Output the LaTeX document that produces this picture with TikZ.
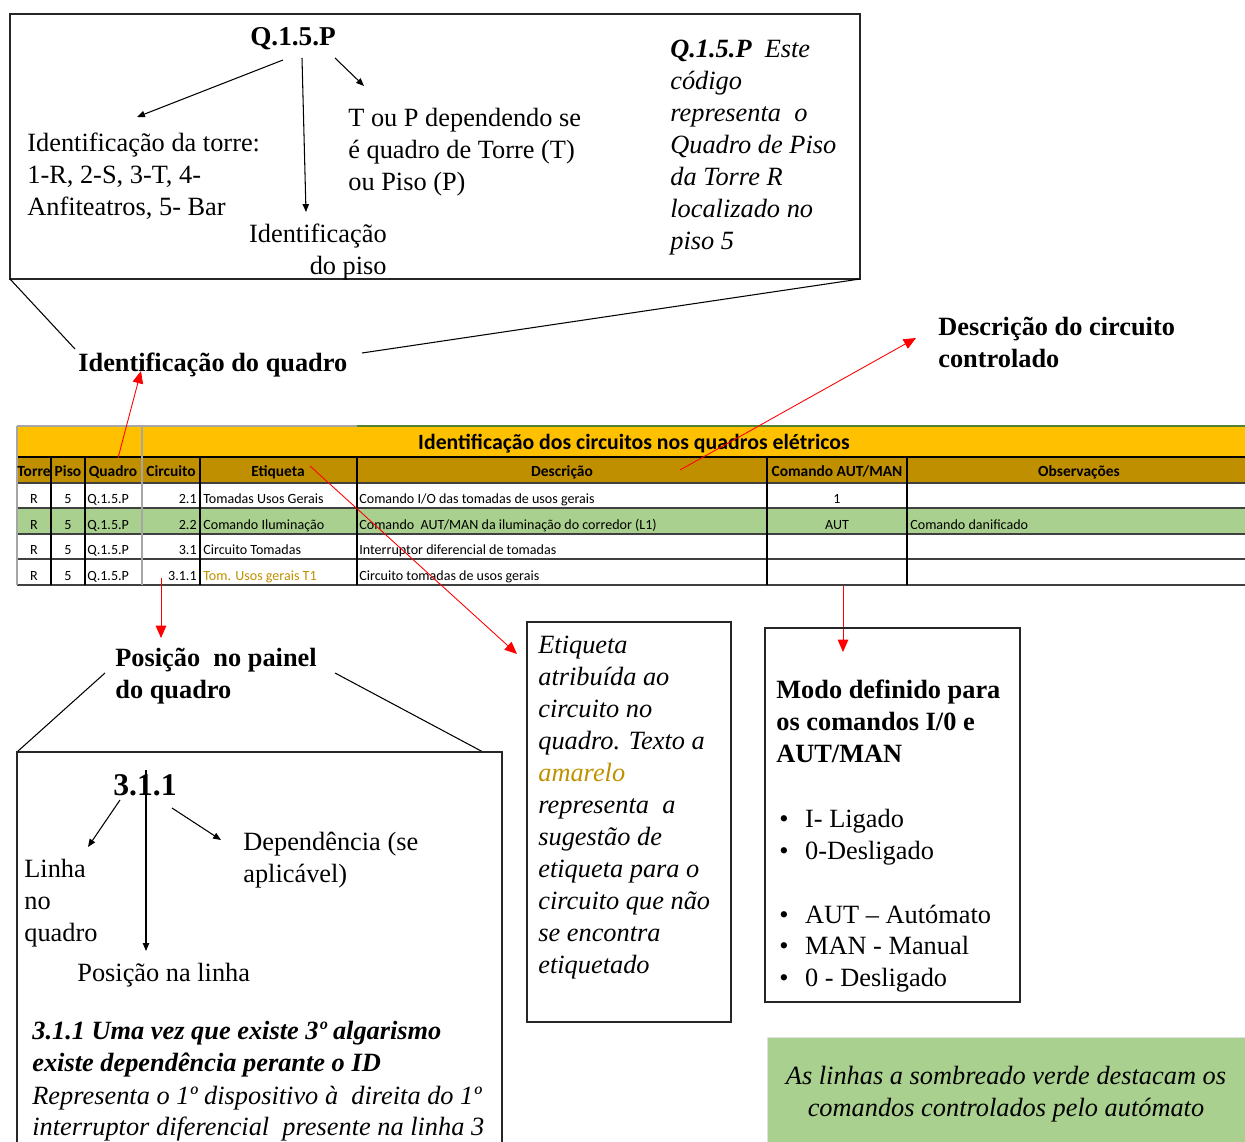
\documentclass[tikz,border=0pt]{standalone}
\usepackage{fontspec}
\setmainfont{Liberation Serif}
\newfontfamily\calfont{Carlito}
\usetikzlibrary{arrows.meta}

\definecolor{tblyellow}{HTML}{FFC000}
\definecolor{tblhead}{HTML}{BF8F00}
\definecolor{tblgreen}{HTML}{A9D08E}
\definecolor{goldtxt}{HTML}{BF9000}
\definecolor{gridgrey}{HTML}{A6A6A6}
\definecolor{rowline}{HTML}{404040}
\definecolor{topgreen}{HTML}{548235}

\newcommand\bitem[1]{\makebox[14.7pt][l]{•}#1}

\tikzset{
  txt/.style={font=\fontsize{15}{18.1}\selectfont, inner sep=0pt, align=left},
  txtb/.style={font=\bfseries\fontsize{15}{18.1}\selectfont, inner sep=0pt, align=left},
  txti/.style={font=\itshape\fontsize{15}{18.2}\selectfont, inner sep=0pt, align=left},
  frame/.style={draw=black!85, line width=0.6pt},
  thin/.style={draw=black, line width=0.6pt},
  blkarr/.style={draw=black, line width=0.6pt, -{Triangle[length=4.5pt,width=3.6pt]}},
  redarr/.style={draw=red, line width=0.5pt, -{Triangle[length=7pt,width=6pt]}},
  cellfont/.style={font=\calfont\fontsize{8}{9}\selectfont, inner sep=0pt},
  cellc/.style={cellfont, anchor=base},
  celll/.style={cellfont, anchor=base west},
  cellr/.style={cellfont, anchor=base east},
  headc/.style={font=\calfont\bfseries\fontsize{8.8}{10}\selectfont, inner sep=0pt, anchor=base},
}

\begin{document}
\begin{tikzpicture}[x=0.02cm, y=-0.02cm]
\useasboundingbox (0,0) rectangle (1245,1142);

% ---------- code explanation box ----------
\draw[frame] (10,14) rectangle (860,279);
\coordinate (tbsw) at (10,279);
\coordinate (tbse) at (860,279);

\node[font=\bfseries\fontsize{15.5}{18}\selectfont, inner sep=0pt, anchor=base] (code) at (293,46) {Q.1.5.P};
\node[txt, anchor=north west] (torre) at (27,133) {Identificação da torre:\\1-R, 2-S, 3-T, 4-\\Anfiteatros, 5- Bar};
\node[txt, anchor=north west] (tp) at (348,108) {T ou P dependendo se\\é quadro de Torre (T)\\ou Piso (P)};
\node[txt, align=right, anchor=north east] (piso) at (387,224) {Identificação\\do piso};
\node[txti, anchor=north west] (codenote) at (670,40) {\textbf{Q.1.5.P}\ \ Este\\código\\representa\ \ o\\Quadro de Piso\\da Torre R\\localizado no\\piso 5};

\coordinate (c1s) at (283,60);  \coordinate (c1e) at (137,117);
\coordinate (c2s) at (302,58);  \coordinate (c2e) at (306,212);
\coordinate (c3s) at (335,58);  \coordinate (c3e) at (364,86);
\draw[blkarr] (c1s) -- (c1e);
\draw[blkarr] (c2s) -- (c2e);
\draw[blkarr] (c3s) -- (c3e);

% ---------- callout labels ----------
\node[txtb, anchor=base west] (idq) at (78,372) {Identificação do quadro};
\coordinate (idqL) at (75,349);
\coordinate (idqR) at (362,353);
\draw[thin] (tbsw) -- (idqL);
\draw[thin] (tbse) -- (idqR);

\node[txtb, anchor=north west] (desc) at (938,317) {Descrição do circuito\\controlado};

% ---------- table ----------
\fill[tblyellow] (17,426) rectangle (1245,457);
\fill[tblhead] (17,457) rectangle (1245,483);
\fill[tblgreen] (17,508) rectangle (1245,534);

\draw[gridgrey, line width=0.6pt] (17,426) -- (357,426);
\draw[topgreen, line width=0.6pt] (357,426) -- (1245,426);
\draw[black, line width=0.7pt] (17,457) -- (1245,457);
\foreach \yy in {483,508,534,559,585}
  \draw[rowline, line width=0.8pt] (17,\yy) -- (1245,\yy);
\foreach \xx in {51,85,200,357,767,907}
  \draw[black, line width=0.8pt] (\xx,457) -- (\xx,585);
\draw[gridgrey, line width=0.8pt] (17,426) -- (17,585);
\draw[gridgrey, line width=0.8pt] (142,426) -- (142,585);

\node[font=\calfont\bfseries\fontsize{12.4}{14}\selectfont, inner sep=0pt, anchor=base] (ttl) at (634,449) {Identificação dos circuitos nos quadros elétricos};

\node[headc] (h1) at (34,477) {Torre};
\node[headc] (h2) at (68,477) {Piso};
\node[headc] (h3) at (113,477) {Quadro};
\node[headc] (h4) at (171,477) {Circuito};
\node[headc] (h5) at (278,477) {Etiqueta};
\node[headc] (h6) at (562,477) {Descrição};
\node[headc] (h7) at (837,477) {Comando AUT/MAN};
\node[headc] (h8) at (1079,477) {Observações};

% row 1
\node[cellc] (r1a) at (34,503) {R};
\node[cellc] (r1b) at (68,503) {5};
\node[celll] (r1c) at (87,503) {Q.1.5.P};
\node[cellr] (r1d) at (197,503) {2.1};
\node[celll] (r1e) at (203,503) {Tomadas Usos Gerais};
\node[celll] (r1f) at (359,503) {Comando I/O das tomadas de usos gerais};
\node[cellc] (r1g) at (837,503) {1};
% row 2
\node[cellc] (r2a) at (34,529) {R};
\node[cellc] (r2b) at (68,529) {5};
\node[celll] (r2c) at (87,529) {Q.1.5.P};
\node[cellr] (r2d) at (197,529) {2.2};
\node[celll] (r2e) at (203,529) {Comando Iluminação};
\node[celll] (r2f) at (359,529) {Comando\ \ AUT/MAN da iluminação do corredor (L1)};
\node[cellc] (r2g) at (837,529) {AUT};
\node[celll] (r2h) at (910,529) {Comando danificado};
% row 3
\node[cellc] (r3a) at (34,554) {R};
\node[cellc] (r3b) at (68,554) {5};
\node[celll] (r3c) at (87,554) {Q.1.5.P};
\node[cellr] (r3d) at (197,554) {3.1};
\node[celll] (r3e) at (203,554) {Circuito Tomadas};
\node[celll] (r3f) at (359,554) {Interruptor diferencial de tomadas};
% row 4
\node[cellc] (r4a) at (34,580) {R};
\node[cellc] (r4b) at (68,580) {5};
\node[celll] (r4c) at (87,580) {Q.1.5.P};
\node[cellr] (r4d) at (197,580) {3.1.1};
\node[celll, text=goldtxt] (r4e) at (203,580) {Tom. Usos gerais T1};
\node[celll] (r4f) at (359,580) {Circuito tomadas de usos gerais};

% ---------- red pointers ----------
\coordinate (p1s) at (118,458); \coordinate (p1e) at (141,371);
\coordinate (p2s) at (310,466); \coordinate (p2e) at (517,654);
\coordinate (p3s) at (680,470); \coordinate (p3e) at (916,338);
\coordinate (p4s) at (161,578); \coordinate (p4e) at (161,638);
\coordinate (p5s) at (843,586); \coordinate (p5e) at (843,652);
\draw[redarr] (p1s) -- (p1e);
\draw[redarr] (p2s) -- (p2e);
\draw[redarr] (p3s) -- (p3e);
\draw[redarr] (p4s) -- (p4e);
\draw[redarr] (p5s) -- (p5e);

% ---------- panel position ----------
\node[txtb, anchor=north west] (pos) at (115,648) {Posição\ \ no painel\\do quadro};
\coordinate (posL) at (105,673);
\coordinate (posR) at (335,673);
\coordinate (bxNW) at (17,752);
\coordinate (bxNR) at (483,752);
\draw[thin] (posL) -- (bxNW);
\draw[thin] (posR) -- (bxNR);

\draw[frame] (17,1150) -- (17,752) -- (502,752) -- (502,1150);

\node[font=\bfseries\fontsize{18}{20}\selectfont, inner sep=0pt, anchor=base west] (num) at (113,795) {3.1.1};
\node[txt, anchor=north west] (linha) at (24,859) {Linha\\no\\quadro};
\node[txt, anchor=north west] (dep) at (243,832) {Dependência (se\\aplicável)};
\node[txt, anchor=base west] (posl) at (77,981) {Posição na linha};
\coordinate (n1s) at (120,800); \coordinate (n1e) at (88,847);
\coordinate (n2s) at (146,770); \coordinate (n2e) at (146,951);
\coordinate (n3s) at (172,808); \coordinate (n3e) at (221,840);
\draw[blkarr] (n1s) -- (n1e);
\draw[blkarr] (n2s) -- (n2e);
\draw[blkarr] (n3s) -- (n3e);

\node[font=\bfseries\itshape\fontsize{15}{18.1}\selectfont, inner sep=0pt, align=left, anchor=north west] (dep2) at (32,1021) {3.1.1 Uma vez que existe 3º algarismo\\existe dependência perante o ID};
\node[font=\itshape\fontsize{15}{17.6}\selectfont, inner sep=0pt, align=left, anchor=north west] (rep) at (32,1086) {Representa o 1º dispositivo à\ \ direita do 1º\\interruptor diferencial\ \ presente na linha 3};

% ---------- label note ----------
\draw[frame] (527,622) rectangle (731,1022);
\node[txti, anchor=north west] (etq) at (538,636) {Etiqueta\\atribuída ao\\circuito no\\quadro. Texto a\\\textcolor{goldtxt}{amarelo}\\representa\ \ a\\sugestão de\\etiqueta para o\\circuito que não\\se encontra\\etiquetado};

% ---------- command modes ----------
\draw[frame] (765,628) rectangle (1020,1002);
\node[txtb, anchor=north west] (modo) at (776,680) {Modo definido para\\os comandos I/0 e\\AUT/MAN};
\node[txt, anchor=north west] (lst) at (779,809) {\bitem{I- Ligado}\\\bitem{0-Desligado}\\[18.1pt]\bitem{AUT – Autómato}\\\bitem{MAN - Manual}\\\bitem{0 - Desligado}};

% ---------- legend ----------
\fill[tblgreen] (767,1037) rectangle (1245,1142);
\draw[black!12, line width=0.5pt] (767,1142) -- (767,1037) -- (1245,1037);
\node[font=\itshape\fontsize{15}{18.1}\selectfont, inner sep=0pt, align=center] (leg) at (1006,1094) {As linhas a sombreado verde destacam os\\comandos controlados pelo autómato};
\end{tikzpicture}
\end{document}
